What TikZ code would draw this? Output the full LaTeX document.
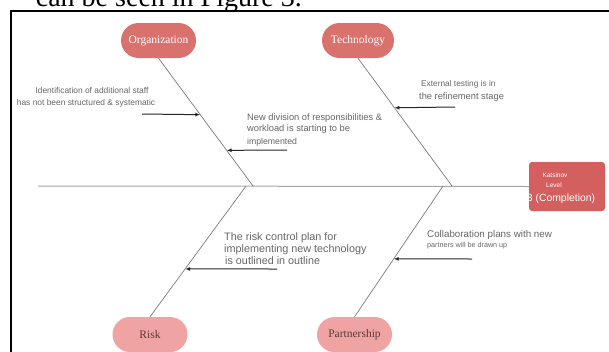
\documentclass[tikz,border=0pt]{standalone}
\usepackage{fontspec}
\setmainfont{Liberation Serif}
\newfontfamily\labfont{Liberation Sans}
\usetikzlibrary{calc,arrows.meta,shapes.misc}
\definecolor{catdark}{HTML}{D9716D}
\definecolor{catlight}{HTML}{EFA3A2}
\definecolor{katfill}{HTML}{D45F5F}
\definecolor{labgray}{HTML}{666666}
\definecolor{bonegray}{HTML}{7A7A7A}
\definecolor{riskText}{HTML}{5A3838}
\tikzset{
  cathead/.style={rounded rectangle, fill=catdark, text=white, minimum width=75pt, minimum height=35pt, inner sep=0pt, font=\fontsize{11.5}{12}\selectfont},
  catfoot/.style={rounded rectangle, fill=catlight, text=riskText, minimum width=75pt, minimum height=35pt, inner sep=0pt, font=\fontsize{11.5}{12}\selectfont},
  bone/.style={draw=bonegray, line width=0.7pt},
  spine/.style={draw=gray!70, line width=1pt},
  causearrow/.style={draw=black!85, line width=1pt, -{Latex[length=5pt,width=4pt]}},
  lab/.style={text=labgray, inner sep=0pt},
}
\begin{document}
\begin{tikzpicture}[x=1pt,y=-1pt]
\useasboundingbox (0,0) rectangle (609,351);
\clip (0,0) rectangle (609,351);
\fill[white] (0,0) rectangle (609,351);
% cropped heading text from the page
\node[anchor=base east, inner sep=0pt, font=\fontsize{28}{28}\selectfont] (head) at (302,6) {can be seen in Figure 3.};
% frame
\draw[line width=1.8pt] (11,352) -- (11,11) -- (610,11);

% category nodes
\node[cathead, minimum width=75pt] (org) at (158.5,40.5) {Organization};
\node[cathead, minimum width=72pt] (tech) at (358,40.5) {Technology};
\node[catfoot] (risk) at (150,334.5) {Risk};
\node[catfoot] (part) at (354.5,334.5) {Partnership};

% result box
\node[draw=none, fill=katfill, rounded corners=3pt, minimum width=76pt, minimum height=49pt, inner sep=0pt] (kat) at (567,186.5) {};
\node[anchor=base, text=white, inner sep=0pt, font=\labfont\fontsize{6.5}{7}\selectfont] (katA) at (555,177.5) {Katsinov};
\node[anchor=base, text=white, inner sep=0pt, font=\labfont\fontsize{6.5}{7}\selectfont] (katB) at (554,187.5) {Level};
\node[anchor=base, text=white, inner sep=0pt, font=\labfont\fontsize{10.4}{11}\selectfont] (katC) at (561,201) {3 (Completion)};

% spine
\coordinate (spL) at (38,186);
\draw[spine] (spL) -- (kat.west);

% bones
\coordinate (oS) at (253,186);
\coordinate (tS) at (452,186);
\coordinate (rS) at (246,186);
\coordinate (pS) at (443,186);
\draw[bone] (org.south) -- (oS);
\draw[bone] (tech.south) -- (tS);
\draw[bone] (risk.north) -- (rS);
\draw[bone] (part.north) -- (pS);

% arrow tails
\coordinate (a1) at (142,114);
\coordinate (a2) at (287,150);
\coordinate (a3) at (455,107);
\coordinate (a4) at (277,269);
\coordinate (a5) at (472,259);
\draw[causearrow] (a1) -- ($(org.south)!0.442!(oS)$);
\draw[causearrow] (a2) -- ($(org.south)!0.721!(oS)$);
\draw[causearrow] (a3) -- ($(tech.south)!0.388!(tS)$);
\draw[causearrow] (a4) -- ($(risk.north)!0.366!(rS)$);
\draw[causearrow] (a5) -- ($(part.north)!0.443!(pS)$);

% labels
\node[lab, anchor=base, font=\labfont\fontsize{8.4}{9}\selectfont] (l1a) at (92,93) {Identification of additional staff};
\node[lab, anchor=base, font=\labfont\fontsize{8.4}{9}\selectfont] (l1b) at (86,105) {has not been structured \& systematic};

\node[lab, anchor=base west, font=\labfont\fontsize{9.3}{10}\selectfont] (l2a) at (247,120.5) {New division of responsibilities \&};
\node[lab, anchor=base west, font=\labfont\fontsize{9.3}{10}\selectfont] (l2b) at (247,131.5) {workload is starting to be};
\node[lab, anchor=base west, font=\labfont\fontsize{8.7}{9}\selectfont] (l2c) at (247,144) {implemented};

\node[lab, anchor=base west, font=\labfont\fontsize{8.3}{9}\selectfont] (l3a) at (421,86) {External testing is in};
\node[lab, anchor=base west, font=\labfont\fontsize{9.3}{10}\selectfont] (l3b) at (419,99.5) {the refinement stage};

\node[lab, anchor=base west, font=\labfont\fontsize{10.8}{11}\selectfont] (l4a) at (224,240) {The risk control plan for};
\node[lab, anchor=base west, font=\labfont\fontsize{10.8}{11}\selectfont] (l4b) at (224,252) {implementing new technology};
\node[lab, anchor=base west, font=\labfont\fontsize{10.8}{11}\selectfont] (l4c) at (225,264) {is outlined in outline};

\node[lab, anchor=base west, font=\labfont\fontsize{9.8}{10}\selectfont] (l5a) at (427,237.5) {Collaboration plans with new};
\node[lab, anchor=base west, font=\labfont\fontsize{7.2}{8}\selectfont] (l5b) at (427,247.5) {partners will be drawn up};
\end{tikzpicture}
\end{document}
